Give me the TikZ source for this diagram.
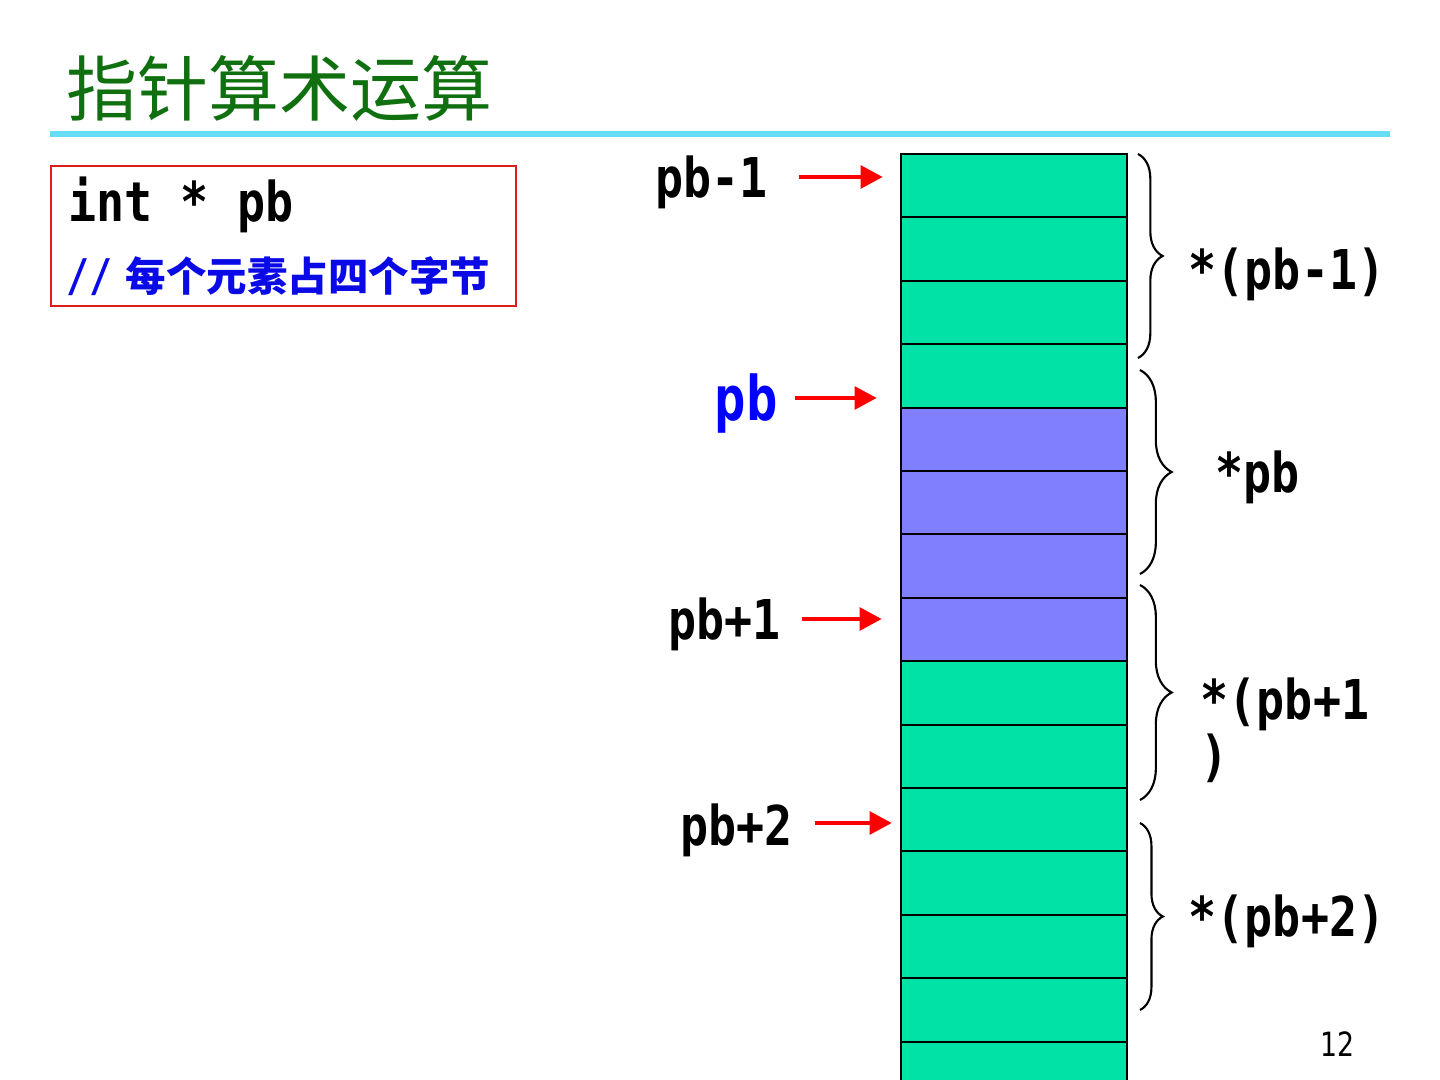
\documentclass[tikz,border=0pt]{standalone}
\usepackage{fontspec}
\usepackage{xcolor}
\usepackage{tikz}
\usetikzlibrary{arrows.meta,calc,decorations.pathreplacing}

\newfontfamily\cjk{Noto Sans CJK SC}
\newfontfamily\lblfont{DejaVu Sans Mono}[FakeStretch=0.85]
\newfontfamily\pagefont{DejaVu Sans}[FakeStretch=0.8]

\definecolor{titlegreen}{RGB}{16,112,16}
\definecolor{memgreen}{RGB}{0,226,166}
\definecolor{mempurple}{RGB}{128,128,255}
\definecolor{rulecyan}{RGB}{102,221,245}
\definecolor{boxred}{RGB}{220,30,30}
\definecolor{cmtblue}{RGB}{10,10,230}

\begin{document}
\begin{tikzpicture}[
  x=0.01cm, y=-0.01cm,
  cell/.style={draw,line width=0.6pt,minimum width=2.26cm,minimum height=0.634cm,inner sep=0pt},
  lbl/.style={font=\lblfont\bfseries\fontsize{15.6}{18}\selectfont,inner sep=0pt,anchor=base west},
  ptr/.style={-{Triangle[length=6.3pt,width=6.3pt]},line width=1.4pt,red},
  curly/.style={decorate,line width=0.6pt,decoration={brace,amplitude=#1}}
]
  \useasboundingbox (0,0) rectangle (1440,1080);
  \clip (0,0) rectangle (1440,1080);

  % title and rule
  \node[font=\cjk\fontsize{20.2}{24}\selectfont,text=titlegreen,inner sep=0pt,anchor=base west]
    (title) at (66,116) {指针算术运算};
  \draw[rulecyan,line width=1.45pt] (50,134) -- (1390,134);

  % declaration box
  \node[draw=boxred,line width=0.6pt,minimum width=4.65cm,minimum height=1.4cm,inner sep=0pt]
    (decl) at (283.5,236) {};
  \node[lbl] (code) at (68,222) {int * pb};
  \node[font=\fontsize{11.5}{14}\selectfont,text=cmtblue,inner sep=0pt,anchor=base west]
    (cmt) at (66,292) {{\lblfont\bfseries\fontsize{12.8}{15}\selectfont //} {\cjk\bfseries 每个元素占四个字节}};

  % memory cells
  \foreach \i in {0,...,3,8,9,...,14}
    \node[cell,fill=memgreen] (c\i) at (1014,{185.7+63.4*\i}) {};
  \foreach \i in {4,...,7}
    \node[cell,fill=mempurple] (c\i) at (1014,{185.7+63.4*\i}) {};

  % pointer labels
  \node[lbl] (pbm1) at (655,198) {pb-1};
  \node[lbl,text=blue,font=\lblfont\bfseries\fontsize{17.5}{20}\selectfont] (pb) at (714,421) {pb};
  \node[lbl] (pbp1) at (668,640) {pb+1};
  \node[lbl] (pbp2) at (680,845) {pb+2};

  \coordinate (s1) at ($(pbm1.base east)+(30,-21)$);
  \coordinate (s2) at ($(pb.base east)+(17,-23)$);
  \coordinate (s3) at ($(pbp1.base east)+(20,-21)$);
  \coordinate (s4) at ($(pbp2.base east)+(21,-22)$);
  \draw[ptr,shorten >=0.17cm] (s1) -- (s1 -| c0.west);
  \draw[ptr,shorten >=0.23cm] (s2) -- (s2 -| c3.west);
  \draw[ptr,shorten >=0.18cm] (s3) -- (s3 -| c7.west);
  \draw[ptr,shorten >=0.08cm] (s4) -- (s4 -| c10.west);

  % braces
  \coordinate (b1t) at (1138,154);  \coordinate (b1b) at (1138,358);
  \coordinate (b2t) at (1140,370);  \coordinate (b2b) at (1140,574);
  \coordinate (b3t) at (1140,585);  \coordinate (b3b) at (1140,800);
  \coordinate (b4t) at (1140,823);  \coordinate (b4b) at (1140,1010);
  \draw[curly=7pt] (b1t) -- (b1b);
  \draw[curly=9pt] (b2t) -- (b2b);
  \draw[curly=9pt] (b3t) -- (b3b);
  \draw[curly=6.5pt] (b4t) -- (b4b);

  % dereference labels
  \node[lbl] (dm1) at (1188,290) {*(pb-1)};
  \node[lbl] (d0)  at (1215,493) {*pb};
  \node[lbl] (dp1) at (1200,720) {*(pb+1};
  \node[lbl] (dp1b) at (1200,775) {)};
  \node[lbl] (dp2) at (1188,936) {*(pb+2)};

  \node[font=\pagefont\fontsize{9.5}{11}\selectfont,inner sep=0pt,anchor=base west]
    (pageno) at (1320,1056) {12};
\end{tikzpicture}
\end{document}
